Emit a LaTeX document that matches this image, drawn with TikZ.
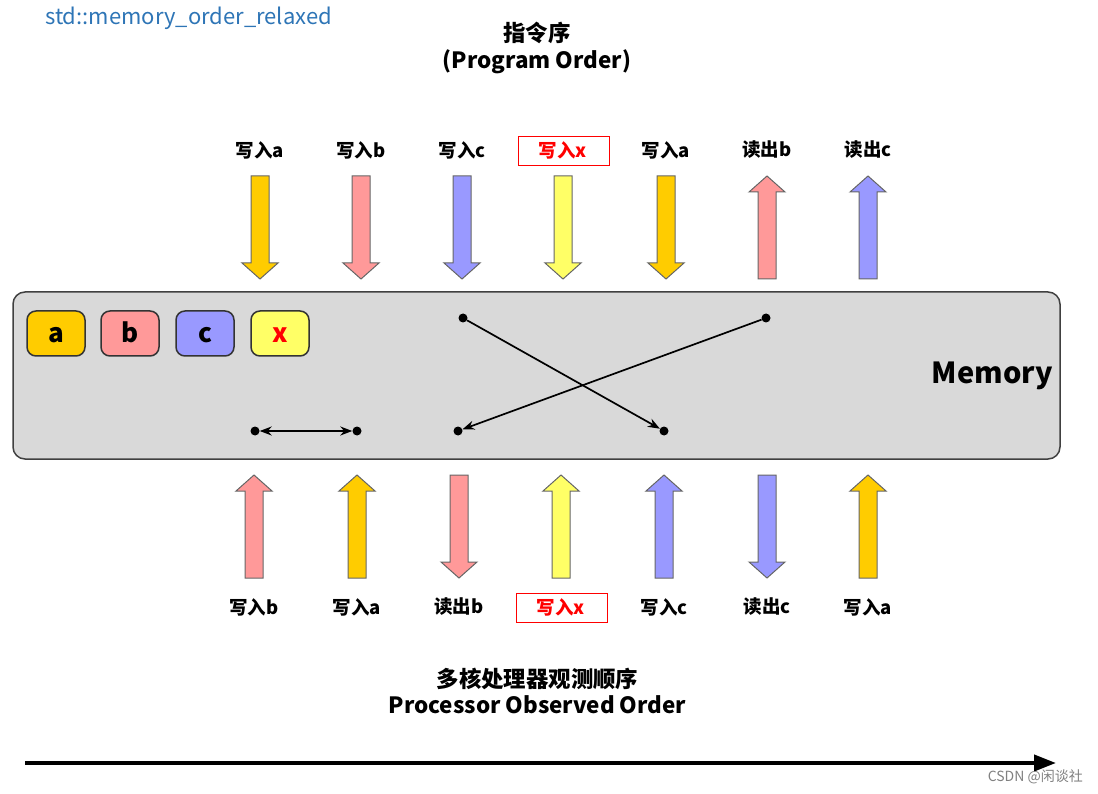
\documentclass[tikz,border=0pt]{standalone}
\usepackage{fontspec}
\setmainfont{Noto Sans CJK SC}
\usetikzlibrary{arrows.meta}

\definecolor{cgold}{HTML}{FFCC00}
\definecolor{cpink}{HTML}{FF9999}
\definecolor{cblue}{HTML}{9999FF}
\definecolor{cyel}{HTML}{FFFF66}
\definecolor{memgray}{HTML}{D9D9D9}
\definecolor{titleblue}{HTML}{2E75B6}

% fat arrows: x, top y, bottom y, fill
\newcommand{\fatdown}[4]{%
  \filldraw[fat, fill=#4] (#1-9,#2) -- (#1+9,#2) -- (#1+9,#3-16) -- (#1+18,#3-16)
    -- (#1,#3) -- (#1-18,#3-16) -- (#1-9,#3-16) -- cycle;}
\newcommand{\fatup}[4]{%
  \filldraw[fat, fill=#4] (#1-9,#3) -- (#1+9,#3) -- (#1+9,#2+16) -- (#1+18,#2+16)
    -- (#1,#2) -- (#1-18,#2+16) -- (#1-9,#2+16) -- cycle;}

\begin{document}
\begin{tikzpicture}[x=1pt, y=-1pt,
  fat/.style={draw=black!60, line width=1pt},
  lbl/.style={font=\bfseries\fontsize{18.5}{20}\selectfont, inner sep=0pt},
  xframe/.style={draw=red, line width=1pt, minimum width=91pt, minimum height=29pt},
  memory/.style={draw=black!75, fill=memgray, line width=1.5pt, rounded corners=12pt,
                 minimum width=1047pt, minimum height=167pt},
  cell/.style={draw=black!80, line width=1.5pt, rounded corners=9pt, minimum width=58pt,
               minimum height=45pt, text height=19pt, text depth=0pt,
               font=\bfseries\fontsize{26}{28}\selectfont},
  dot/.style={circle, fill=black, inner sep=0pt, minimum size=9pt},
  link/.style={-{Stealth[length=12pt, width=9pt]}, line width=1.7pt},
  dlink/.style={{Stealth[length=12pt, width=9pt]}-{Stealth[length=12pt, width=9pt]}, line width=1.7pt},
  heading/.style={font=\bfseries\fontsize{22.4}{26.5}\selectfont, align=center}]
  \useasboundingbox (0,0) rectangle (1098,794);

  \node[anchor=west, text=titleblue, inner sep=0pt, font=\fontsize{22}{24}\selectfont]
    (title) at (45,18) {std::memory\_order\_relaxed};
  \node[heading] (prog) at (537,48) {指令序\\(Program Order)};

  % program order
  \foreach \cx/\lab/\col/\dir [count=\i] in {260/写入a/cgold/down, 361/写入b/cpink/down,
      462/写入c/cblue/down, 563/\textcolor{red}{写入x}/cyel/down, 666/写入a/cgold/down,
      767/读出b/cpink/up, 868/读出c/cblue/up}{
    \node[lbl] (top\i) at (\cx,150) {\lab};
    \csname fat\dir\endcsname{\cx}{176}{279}{\col}
  }
  \node[xframe] (topx) at (563.5,151.5) {};

  % memory
  \node[memory] (mem) at (536.5,375.5) {};
  \node[anchor=east, inner sep=0pt, font=\bfseries\fontsize{29}{32}\selectfont]
    (memlbl) at (1053,376) {Memory};
  \node[cell, fill=cgold] (ca) at (56,333.5) {a};
  \node[cell, fill=cpink] (cb) at (130,333.5) {b};
  \node[cell, fill=cblue] (cc) at (205,333.5) {c};
  \node[cell, fill=cyel, text=red] (cx) at (280,333.5) {x};

  \node[dot] (wb) at (255,431) {};
  \node[dot] (wa) at (357,431) {};
  \node[dot] (rbb) at (458,431) {};
  \node[dot] (wcb) at (664,431) {};
  \node[dot] (wct) at (463,318) {};
  \node[dot] (rbt) at (766,318) {};
  \draw[dlink] (wb) -- (wa);
  \draw[link] (wct) -- (wcb);
  \draw[link] (rbt) -- (rbb);

  % observed order
  \foreach \cx/\lab/\col/\dir [count=\i] in {254/写入b/cpink/up, 357/写入a/cgold/up,
      459/读出b/cpink/down, 561/\textcolor{red}{写入x}/cyel/up, 664/写入c/cblue/up,
      767/读出c/cblue/down, 868/写入a/cgold/up}{
    \node[lbl] (bot\i) at (\cx,607) {\lab};
    \csname fat\dir\endcsname{\cx}{475}{578}{\col}
  }
  \node[xframe] (botx) at (561.5,607.5) {};

  \node[heading] (obs) at (537.5,691) {多核处理器观测顺序\\Processor Observed Order};

  \coordinate (t0) at (25,763);
  \coordinate (t1) at (1056,763);
  \draw[line width=4pt, -{Triangle[length=22pt, width=16pt]}] (t0) -- (t1);
  \node[anchor=east, inner sep=0pt, text=gray, font=\fontsize{14}{16}\selectfont]
    (wm) at (1083,777) {CSDN @闲谈社};
\end{tikzpicture}
\end{document}
